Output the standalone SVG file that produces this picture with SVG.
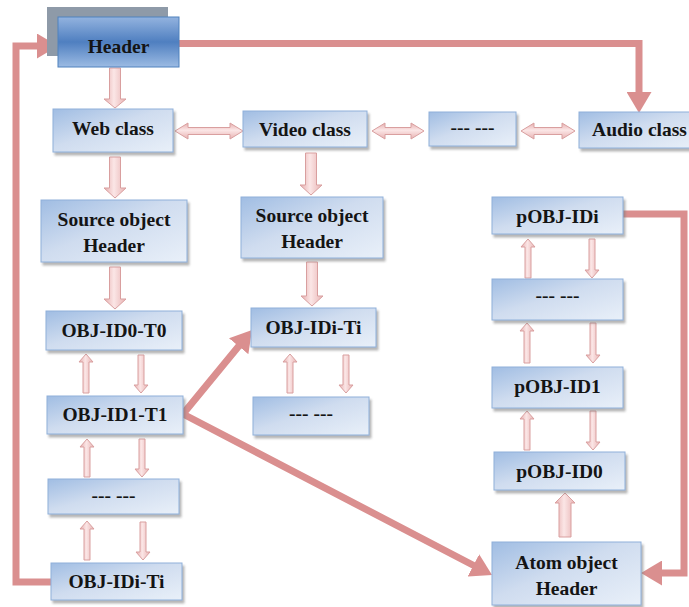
<svg xmlns="http://www.w3.org/2000/svg" width="689" height="607" viewBox="0 0 689 607">
<defs>
<linearGradient id="boxg" x1="0" y1="0" x2="1" y2="1">
<stop offset="0" stop-color="#a0bde3"/>
<stop offset="0.45" stop-color="#cfdcef"/>
<stop offset="1" stop-color="#e9f0f9"/>
</linearGradient>
<linearGradient id="hdrg" x1="0" y1="0" x2="0" y2="1">
<stop offset="0" stop-color="#93b3df"/>
<stop offset="0.5" stop-color="#4f7fc0"/>
<stop offset="1" stop-color="#9cbbe3"/>
</linearGradient>
<linearGradient id="pinkv" x1="0" y1="0" x2="1" y2="0">
<stop offset="0" stop-color="#e6aeae"/>
<stop offset="0.45" stop-color="#fbe6e6"/>
<stop offset="1" stop-color="#e8b3b3"/>
</linearGradient>
<linearGradient id="pinkh" x1="0" y1="0" x2="0" y2="1">
<stop offset="0" stop-color="#e6aeae"/>
<stop offset="0.45" stop-color="#fbe6e6"/>
<stop offset="1" stop-color="#e8b3b3"/>
</linearGradient>
<filter id="sh" x="-10%" y="-10%" width="130%" height="140%">
<feDropShadow dx="2" dy="3" stdDeviation="1" flood-color="#7a7a7a" flood-opacity="0.55"/>
</filter>
<marker id="ah" viewBox="0 0 21 25" refX="9" refY="12.5" markerWidth="21" markerHeight="25" markerUnits="userSpaceOnUse" orient="auto-start-reverse">
<path d="M0,0 L21,12.5 L0,25 Z" fill="#da8f8f"/>
</marker>
</defs>
<style>
.box{fill:url(#boxg);stroke:#8fb0da;stroke-width:1;filter:url(#sh)}
.hdr{fill:url(#hdrg);stroke:#4f81bd;stroke-width:1}
.t{font-family:"Liberation Serif","Times New Roman",serif;font-weight:bold;font-size:19.5px;fill:#141414;text-anchor:middle}
.conn{fill:none;stroke:#da8f8f;stroke-width:7;stroke-linejoin:miter}
.bv{fill:url(#pinkv);stroke:#d99f9f;stroke-width:1}
.bh{fill:url(#pinkh);stroke:#d99f9f;stroke-width:1}
</style>
<rect x="0" y="0" width="689" height="607" fill="#ffffff"/>

<g id="connectors">
<path class="conn" d="M179,43.5 H639 V101" marker-end="url(#ah)"/>
<path class="conn" d="M51,582 H16 V46 H46" marker-end="url(#ah)"/>
<path class="conn" d="M623,214 H684 V573 H653" marker-end="url(#ah)"/>
<path class="conn" d="M244.4,339.3 L183,414 L481.4,569.5" marker-start="url(#ah)" marker-end="url(#ah)"/>
<path class="bv" d="M109.5,68 H120.5 V99 H126 L115,108 L104,99 H109.5 Z"/>
<path class="bv" d="M109.5,157 H120.5 V188 H126 L115,198 L104,188 H109.5 Z"/>
<path class="bv" d="M109.5,267 H120.5 V299 H126 L115,309 L104,299 H109.5 Z"/>
<path class="bv" d="M305.5,153 H316.5 V185 H322 L311,195 L300,185 H305.5 Z"/>
<path class="bv" d="M306.5,262 H317.5 V296 H323 L312,306 L301,296 H306.5 Z"/>
<path class="bv" d="M559,537 H571 V503 H575 L565,493 L555,503 H559 Z"/>
<path class="bv" d="M83,393 H89 V362 H93 L86,354 L79,362 H83 Z"/>
<path class="bv" d="M138,355 H144 V385 H148 L141,393 L134,385 H138 Z"/>
<path class="bv" d="M84,477 H90 V447 H94 L87,439 L80,447 H84 Z"/>
<path class="bv" d="M139,439 H145 V469 H149 L142,477 L135,469 H139 Z"/>
<path class="bv" d="M84,560 H90 V529 H94 L87,521 L80,529 H84 Z"/>
<path class="bv" d="M140,522 H146 V552 H150 L143,560 L136,552 H140 Z"/>
<path class="bv" d="M287,393 H293 V362 H297 L290,354 L283,362 H287 Z"/>
<path class="bv" d="M343,355 H349 V385 H353 L346,393 L339,385 H343 Z"/>
<path class="bv" d="M525,278 H531 V247 H535 L528,239 L521,247 H525 Z"/>
<path class="bv" d="M589,239 H595 V270 H599 L592,278 L585,270 H589 Z"/>
<path class="bv" d="M524,363 H530 V331 H534 L527,323 L520,331 H524 Z"/>
<path class="bv" d="M590,323 H596 V355 H600 L593,363 L586,355 H590 Z"/>
<path class="bv" d="M524,450 H530 V419 H534 L527,411 L520,419 H524 Z"/>
<path class="bv" d="M590,411 H596 V442 H600 L593,450 L586,442 H590 Z"/>
<path class="bh" d="M175,131 L188,123 V127.5 H230 V123 L243,131 L230,139 V134.5 H188 V139 Z"/>
<path class="bh" d="M372,131 L385,123 V127.5 H411 V123 L424,131 L411,139 V134.5 H385 V139 Z"/>
<path class="bh" d="M521,131 L534,123 V127.5 H562 V123 L575,131 L562,139 V134.5 H534 V139 Z"/>
</g>

<g id="header">
<rect x="47" y="7" width="121" height="49" fill="#8e9aa8"/>
<rect class="hdr" x="58" y="17" width="121" height="50"/>
<text class="t" x="118.5" y="53">Header</text>
</g>
<g id="web-class">
<rect class="box" x="53" y="109" width="120" height="43"/>
<text class="t" x="113" y="135">Web class</text>
</g>
<g id="video-class">
<rect class="box" x="243" y="111" width="124" height="36"/>
<text class="t" x="305" y="136">Video class</text>
</g>
<g id="dots-top">
<rect class="box" x="429" y="112" width="87" height="34"/>
<text class="t" x="472.5" y="134">--- ---</text>
</g>
<g id="audio-class">
<rect class="box" x="579" y="112" width="121" height="36"/>
<text class="t" x="639.5" y="136">Audio class</text>
</g>
<g id="source-left">
<rect class="box" x="41" y="200" width="146" height="62"/>
<text class="t" x="114" y="226">Source object</text>
<text class="t" x="114" y="252">Header</text>
</g>
<g id="source-mid">
<rect class="box" x="241" y="197" width="142" height="61"/>
<text class="t" x="312" y="222">Source object</text>
<text class="t" x="312" y="248">Header</text>
</g>
<g id="obj-id0-t0">
<rect class="box" x="46" y="311" width="136" height="39"/>
<text class="t" x="114" y="337">OBJ-ID0-T0</text>
</g>
<g id="obj-id1-t1">
<rect class="box" x="47" y="396" width="136" height="38"/>
<text class="t" x="115" y="421">OBJ-ID1-T1</text>
</g>
<g id="dots-left">
<rect class="box" x="48" y="479" width="131" height="35"/>
<text class="t" x="113.5" y="502">--- ---</text>
</g>
<g id="obj-idi-ti-left">
<rect class="box" x="51" y="563" width="131" height="37"/>
<text class="t" x="116.5" y="588">OBJ-IDi-Ti</text>
</g>
<g id="obj-idi-ti-mid">
<rect class="box" x="251" y="308" width="125" height="39"/>
<text class="t" x="313.5" y="334">OBJ-IDi-Ti</text>
</g>
<g id="dots-mid">
<rect class="box" x="253" y="397" width="116" height="38"/>
<text class="t" x="311" y="420">--- ---</text>
</g>
<g id="pobj-idi">
<rect class="box" x="492" y="197" width="131" height="37"/>
<text class="t" x="557.5" y="223">pOBJ-IDi</text>
</g>
<g id="dots-right">
<rect class="box" x="492" y="279" width="131" height="41"/>
<text class="t" x="557.5" y="302">--- ---</text>
</g>
<g id="pobj-id1">
<rect class="box" x="492" y="367" width="131" height="41"/>
<text class="t" x="557.5" y="393">pOBJ-ID1</text>
</g>
<g id="pobj-id0">
<rect class="box" x="494" y="452" width="131" height="38"/>
<text class="t" x="559.5" y="478">pOBJ-ID0</text>
</g>
<g id="atom-header">
<rect class="box" x="492" y="542" width="149" height="63"/>
<text class="t" x="566.5" y="569">Atom object</text>
<text class="t" x="566.5" y="595">Header</text>
</g>
</svg>
